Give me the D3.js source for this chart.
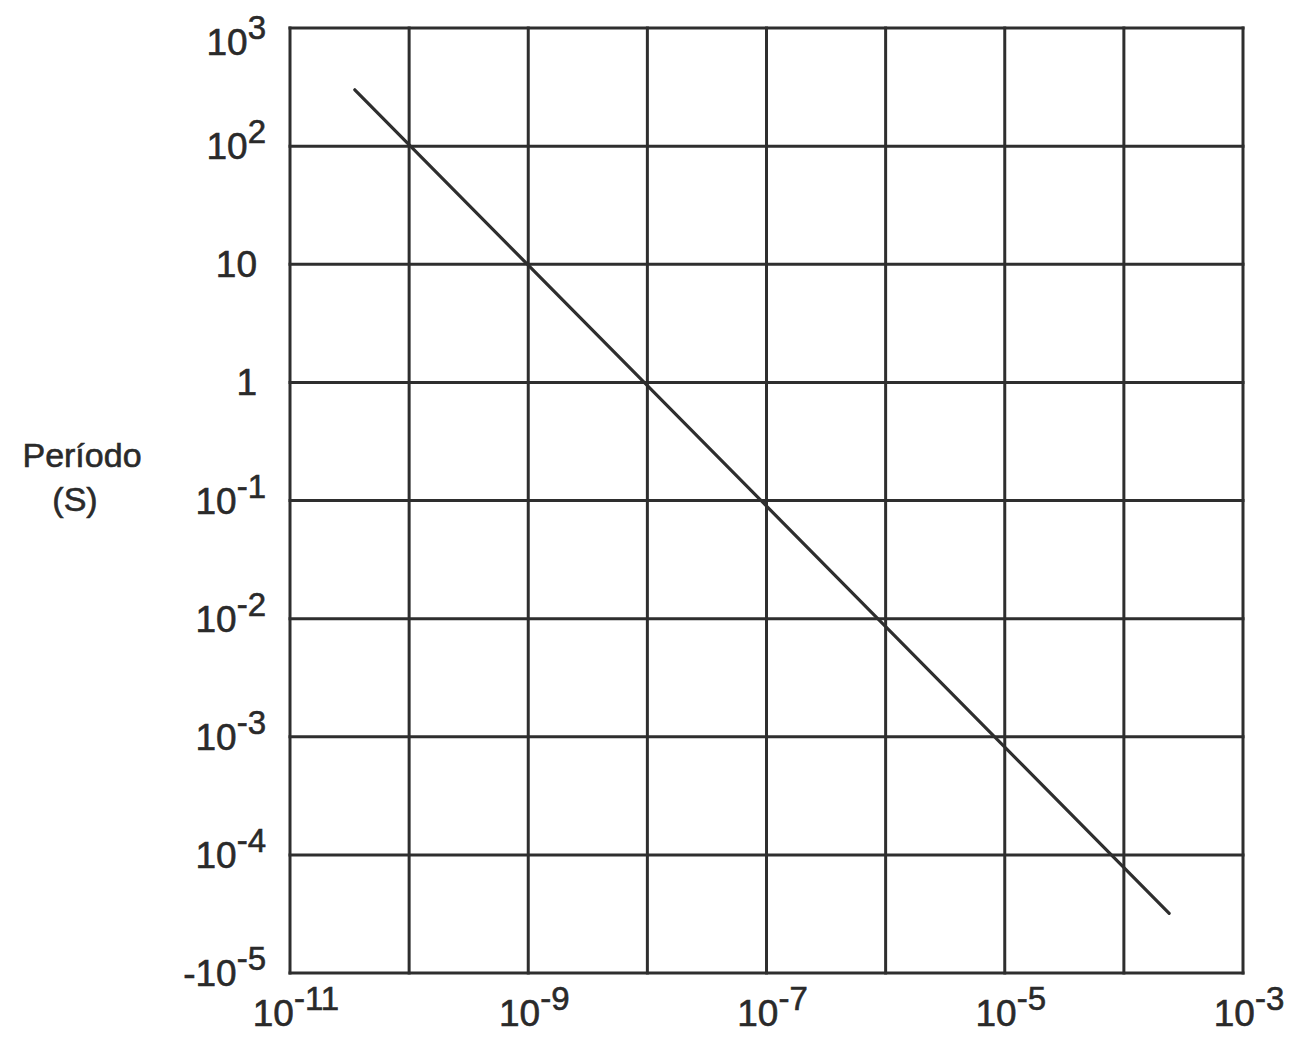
<!DOCTYPE html>
<html>
<head>
<meta charset="utf-8">
<script src="https://cdn.jsdelivr.net/npm/d3@7"></script>
<style>
  html, body { margin: 0; padding: 0; background: #ffffff; }
  svg { display: block; }
  text { font-family: "Liberation Sans", Arial, sans-serif; fill: #2a2a2a; stroke: #2a2a2a; stroke-width: 0.6px; }
</style>
</head>
<body>
<svg id="chart" width="1289" height="1039"></svg>
<script>
// ---- data ----
const xTicks = [1e-11, 1e-10, 1e-9, 1e-8, 1e-7, 1e-6, 1e-5, 1e-4, 1e-3];
const xTickLabelValues = [1e-11, 1e-9, 1e-7, 1e-5, 1e-3];
const xTickBase = ["10", "10", "10", "10", "10"];
const xTickExp = ["-11", "-9", "-7", "-5", "-3"];

const yTicks = [1e3, 1e2, 1e1, 1e0, 1e-1, 1e-2, 1e-3, 1e-4, 1e-5];
const yTickBase = ["10", "10", "10", "1", "10", "10", "10", "10", "-10"];
const yTickExp = ["3", "2", "", "", "-1", "-2", "-3", "-4", "-5"];

const lineX = [3.5e-11, 2.4e-4];
const lineY = [300, 3.2e-5];

const yTitle = ["Período", "(S)"];

// ---- layout ----
const svg = d3.select("#chart");
const plotL = 290, plotR = 1243, plotT = 28, plotB = 973;

const x = d3.scaleLog().domain([1e-11, 1e-3]).range([plotL, plotR]);
const y = d3.scaleLog().domain([1e-5, 1e3]).range([plotB, plotT]);

const ink = "#2e2e2e";

// grid
const g = svg.append("g");
g.selectAll("line.v").data(xTicks).enter().append("line")
  .attr("class", "v")
  .attr("x1", d => x(d)).attr("x2", d => x(d))
  .attr("y1", plotT - 1.5).attr("y2", plotB + 1.5)
  .attr("stroke", ink).attr("stroke-width", 3);
g.selectAll("line.h").data(yTicks).enter().append("line")
  .attr("class", "h")
  .attr("y1", d => y(d)).attr("y2", d => y(d))
  .attr("x1", plotL - 1.5).attr("x2", plotR + 1.5)
  .attr("stroke", ink).attr("stroke-width", 3);

// data line
const pts = lineX.map((v, i) => [v, lineY[i]]);
svg.append("path")
  .datum(pts)
  .attr("d", d3.line().x(d => x(d[0])).y(d => y(d[1])))
  .attr("fill", "none").attr("stroke", ink).attr("stroke-width", 3.2)
  .attr("stroke-linecap", "round");

// x tick labels
const xl = svg.append("g");
xTickLabelValues.forEach((v, i) => {
  const t = xl.append("text")
    .attr("x", x(v) + 6).attr("y", 1026)
    .attr("text-anchor", "middle")
    .attr("font-size", 37);
  t.append("tspan").text(xTickBase[i]);
  t.append("tspan").attr("dy", -16).attr("font-size", 33).text(xTickExp[i]);
});

// y tick labels
const yl = svg.append("g");
yTicks.forEach((v, i) => {
  const hasExp = !!yTickExp[i];
  const t = yl.append("text")
    .attr("x", hasExp ? 266 : 257)
    .attr("y", Math.max(y(v) + 13, 55))
    .attr("text-anchor", "end")
    .attr("font-size", 37);
  t.append("tspan").text(yTickBase[i]);
  if (hasExp) {
    t.append("tspan").attr("dy", -16).attr("font-size", 33).text(yTickExp[i]);
  }
});

// y axis title
svg.append("text").attr("x", 82).attr("y", 467)
  .attr("text-anchor", "middle").attr("font-size", 34).text(yTitle[0]);
svg.append("text").attr("x", 75).attr("y", 511)
  .attr("text-anchor", "middle").attr("font-size", 34).text(yTitle[1]);
</script>
</body>
</html>
